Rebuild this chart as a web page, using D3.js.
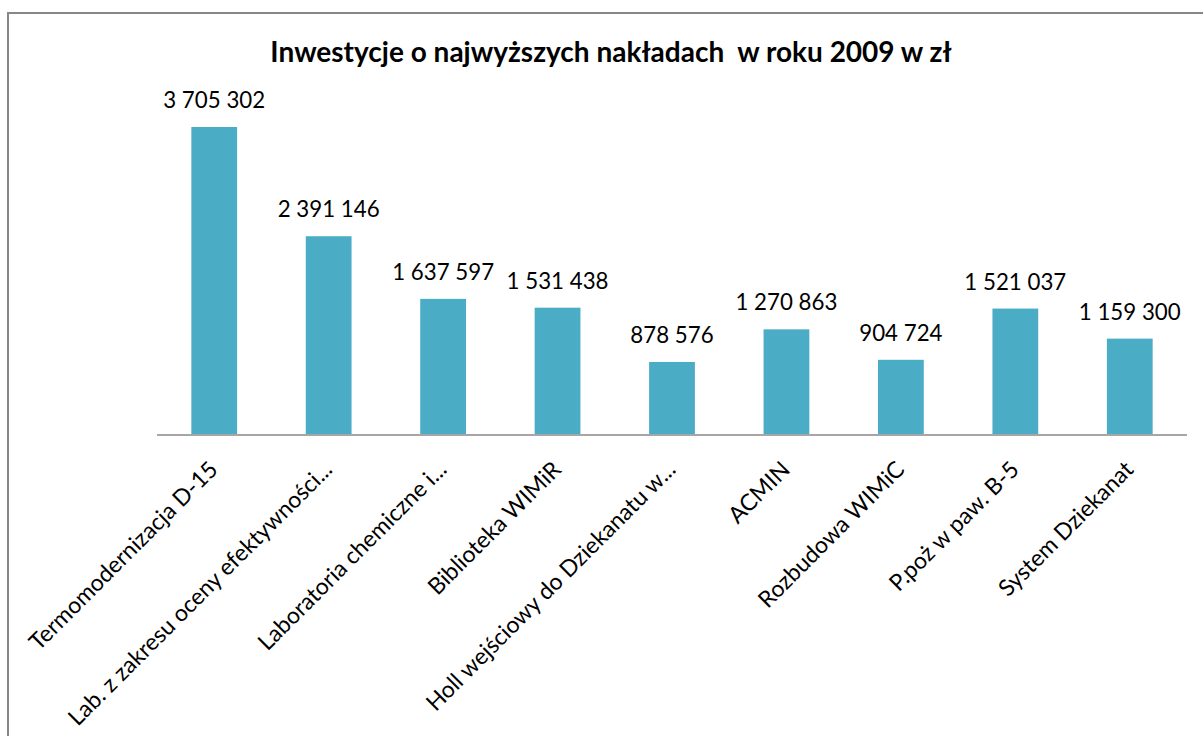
<!DOCTYPE html>
<html><head><meta charset="utf-8">
<script src="https://cdn.jsdelivr.net/npm/d3@7"></script>
<style>body{margin:0;background:#fff}svg{display:block}</style>
</head><body>
<svg id="c" width="1203" height="736"></svg>
<script>
const categories = ["Termomodernizacja D-15","Lab. z zakresu oceny efektywności...","Laboratoria chemiczne i...","Biblioteka WIMiR","Holl wejściowy do Dziekanatu w...","ACMIN","Rozbudowa WIMiC","P.poż w paw. B-5","System Dziekanat"];
const values = [3705302,2391146,1637597,1531438,878576,1270863,904724,1521037,1159300];
const valueLabels = ["3 705 302","2 391 146","1 637 597","1 531 438","878 576","1 270 863","904 724","1 521 037","1 159 300"];
const title = "Inwestycje o najwyższych nakładach  w roku 2009 w zł";

const svg = d3.select("#c");
const font = "Lato, 'Open Sans', sans-serif";
svg.append("rect").attr("x",8).attr("y",13).attr("width",1220).attr("height",760)
  .attr("fill","none").attr("stroke","#878787").attr("stroke-width",2);

const x0 = 157, x1 = 1187, base = 435;
const x = d3.scaleBand().domain(categories).range([x0,x1]).paddingInner(0.6).paddingOuter(0.3);
const y = d3.scaleLinear().domain([0,3705302]).range([base,127]);

svg.append("text").attr("x",611).attr("y",62).attr("text-anchor","middle")
  .attr("font-family",font).attr("font-weight","bold").attr("font-size",28).attr("fill","#000")
  .style("white-space","pre").text(title);

svg.selectAll("rect.bar").data(values).join("rect").attr("class","bar")
  .attr("x",(d,i)=>x(categories[i])).attr("width",x.bandwidth())
  .attr("y",d=>y(d)).attr("height",d=>base-y(d)).attr("fill","#4bacc6");

svg.selectAll("text.val").data(values).join("text").attr("class","val")
  .attr("x",(d,i)=>x(categories[i])+x.bandwidth()/2).attr("y",d=>y(d)-19)
  .attr("text-anchor","middle").attr("font-family",font).attr("font-size",22.3).attr("fill","#000")
  .text((d,i)=>valueLabels[i]);

const axis = d3.axisBottom(x).tickSize(0).tickPadding(0);
const g = svg.append("g").attr("transform",`translate(0,${base})`).call(axis);
g.select(".domain").attr("stroke","#a6a6a6").attr("stroke-width",2).attr("d",`M${x0},0H${x1}`);
g.selectAll(".tick text").attr("font-family",font).attr("font-size",23).attr("fill","#000")
  .attr("text-anchor","end").attr("dy",0).attr("y",0)
  .attr("transform","translate(5,36) rotate(-45)");
</script>
</body></html>
